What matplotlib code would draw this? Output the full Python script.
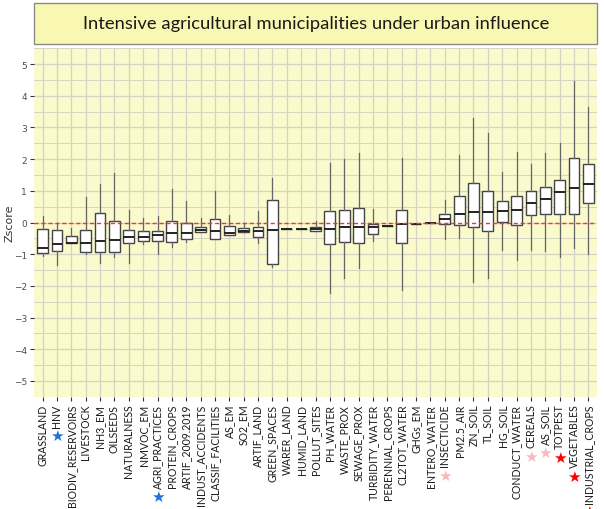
import matplotlib
matplotlib.use('Agg')
import matplotlib.pyplot as plt
from matplotlib.patches import Rectangle

# variables (x order) and box stats
labels = ['GRASSLAND', 'HNV', 'BIODIV_RESERVOIRS', 'LIVESTOCK', 'NH3_EM', 'OILSEEDS',
          'NATURALNESS', 'NMVOC_EM', 'AGRI_PRACTICES', 'PROTEIN_CROPS', 'ARTIF_2009.2019',
          'INDUST_ACCIDENTS', 'CLASSIF_FACILITIES', 'AS_EM', 'SO2_EM', 'ARTIF_LAND',
          'GREEN_SPACES', 'WARER_LAND', 'HUMID_LAND', 'POLLUT_SITES', 'PH_WATER',
          'WASTE_PROX', 'SEWAGE_PROX', 'TURBIDITY_WATER', 'PERENNIAL_CROPS', 'CL2TOT_WATER',
          'GHGs_EM', 'ENTERO_WATER', 'INSECTICIDE', 'PM2.5_AIR', 'ZN_SOIL', 'TL_SOIL',
          'HG_SOIL', 'CONDUCT_WATER', 'CEREALS', 'AS_SOIL', 'TOTPEST', 'VEGETABLES',
          'INDUSTRIAL_CROPS']

whislo = [-1.05, -1.35, -0.66, -0.98, -1.27, -1.08, -1.27, -0.69, -0.98, -0.77, -0.61,
          -0.30, -0.51, -0.40, -0.31, -0.64, -1.42, -0.21, -0.21, -0.26, -2.23, -1.75,
          -1.44, -0.58, -0.12, -2.13, -0.05, -0.01, -0.52, -0.48, -1.87, -1.75, -0.88,
          -1.18, -0.88, -0.91, -1.09, -0.79, -1.00]
q1 = [-0.96, -0.89, -0.66, -0.93, -0.93, -0.93, -0.66, -0.59, -0.57, -0.61, -0.52,
      -0.30, -0.51, -0.40, -0.31, -0.46, -1.31, -0.21, -0.21, -0.26, -0.69, -0.63,
      -0.66, -0.35, -0.12, -0.65, -0.05, -0.01, -0.06, -0.08, -0.14, -0.28, 0.02,
      -0.08, 0.24, 0.27, 0.27, 0.27, 0.61]
med = [-0.79, -0.69, -0.64, -0.64, -0.59, -0.56, -0.45, -0.45, -0.40, -0.33, -0.32,
       -0.24, -0.28, -0.33, -0.26, -0.27, -0.24, -0.21, -0.21, -0.19, -0.19, -0.14,
       -0.14, -0.14, -0.12, -0.05, -0.05, -0.01, 0.12, 0.27, 0.32, 0.34, 0.36,
       0.38, 0.62, 0.73, 0.97, 1.08, 1.23]
q3 = [-0.19, -0.23, -0.43, -0.24, 0.31, 0.04, -0.24, -0.27, -0.26, 0.06, -0.01,
      -0.13, 0.11, -0.11, -0.16, -0.14, 0.72, -0.21, -0.21, -0.13, 0.35, 0.41,
      0.47, -0.04, -0.12, 0.41, -0.05, -0.01, 0.26, 0.85, 1.26, 1.00, 0.67,
      0.85, 1.00, 1.11, 1.33, 2.03, 1.84]
whishi = [0.21, 0.00, -0.16, 0.81, 1.23, 1.55, 0.39, 0.15, 0.21, 1.05, 0.69,
          0.14, 0.99, 0.25, 0.00, 0.36, 1.42, -0.21, -0.21, 0.06, 1.88, 1.99,
          2.18, 0.43, -0.12, 2.03, -0.05, -0.01, 0.72, 2.12, 3.31, 2.84, 1.61,
          2.22, 1.85, 2.18, 2.51, 4.48, 3.64]

# star markers next to some labels
stars = {'HNV': '#1C74D4', 'AGRI_PRACTICES': '#1C74D4',
         'INSECTICIDE': '#F7B9BE', 'CEREALS': '#F7B9BE', 'AS_SOIL': '#F7B9BE',
         'TOTPEST': '#FF0000', 'VEGETABLES': '#FF0000', 'INDUSTRIAL_CROPS': '#FF0000'}

stats = []
for i in range(len(labels)):
    stats.append({'label': labels[i], 'whislo': whislo[i], 'q1': q1[i], 'med': med[i],
                  'q3': q3[i], 'whishi': whishi[i], 'fliers': []})

fig = plt.figure(figsize=(6.04, 5.10), dpi=100)
W, H = 604, 510

# title box
fig.patches.append(Rectangle((33.5 / W, 1 - 45 / H), 563 / W, 41.5 / H,
                             transform=fig.transFigure, facecolor='#F8F8B2',
                             edgecolor='#8A8A8A', lw=1.0))
fig.text(316 / W, 1 - 24.5 / H, 'Intensive agricultural municipalities under urban influence',
         ha='center', va='center', fontsize=13.2, family='Lato', color='#1A1A1A')

ax = fig.add_axes([34 / W, 1 - 397.7 / H, 563 / W, 348.4 / H])
ax.set_facecolor('#FAFACD')
for s in ax.spines.values():
    s.set_visible(False)

pos = list(range(len(labels)))
ax.bxp(stats, positions=pos, widths=0.75, showfliers=False, showcaps=False,
       patch_artist=True,
       boxprops=dict(facecolor='white', edgecolor='#444444', lw=1.0),
       medianprops=dict(color='#222222', lw=1.4),
       whiskerprops=dict(color='#666666', lw=0.9), zorder=3)

ax.axhline(0, color='#FF3030', lw=1.0, ls=(0, (3, 2)), zorder=4)

ax.set_xlim(-0.6, len(labels) - 0.4)
ax.set_ylim(-5.5, 5.5)
ax.set_yticks(range(-5, 6))
ax.set_yticks([v + 0.5 for v in range(-6, 6)], minor=True)
ax.set_xticks(pos)
ax.set_xticklabels(labels, rotation=90, fontsize=7.6, family='Lato', color='#1A1A1A')
ax.tick_params(axis='x', length=3, width=0.8, color='#333333', pad=2)
ax.tick_params(axis='y', which='major', length=3, width=0.8, color='#333333',
               labelsize=6.5, labelcolor='#4D4D4D', pad=2)
ax.tick_params(axis='y', which='minor', length=0)
ax.grid(True, which='major', color='#D4D4C4', lw=0.9, zorder=0)
ax.grid(True, which='minor', axis='y', color='#D4D4C4', lw=0.7, zorder=0)
ax.set_axisbelow(True)
ax.set_ylabel('Zscore', fontsize=8, color='#333333')
ax.yaxis.set_label_coords(-0.034, 0.5)

for lab in ax.get_xticklabels():
    name = lab.get_text()
    if name in stars:
        ax.annotate('★', xy=(0.5, 0), xycoords=lab, xytext=(0, -1),
                    textcoords='offset points', ha='center', va='top',
                    fontsize=11, color=stars[name], family='DejaVu Sans',
                    annotation_clip=False)

fig.savefig('out.png', dpi=100)
